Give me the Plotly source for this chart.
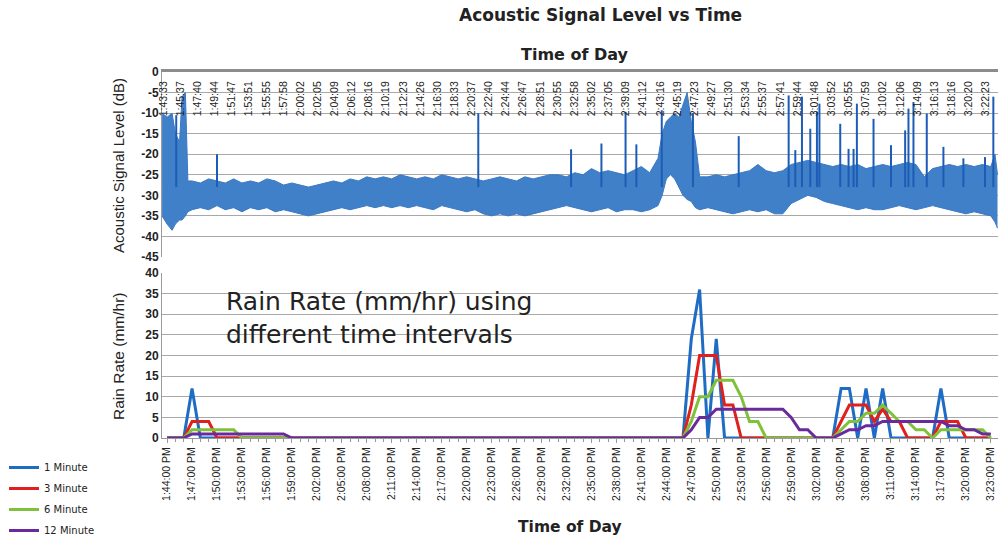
import plotly.graph_objects as go

# ---------------- Top panel: acoustic signal level (dB) ----------------
sig_time = [
    "1:43:24", "1:44:00", "1:44:36", "1:45:00", "1:45:30", "1:45:48", "1:46:12", "1:46:30",
    "1:47:00", "1:48:00", "1:49:00", "1:50:00", "1:51:00", "1:52:00", "1:53:00", "1:54:00",
    "1:55:00", "1:56:00", "1:57:00", "1:58:00", "1:59:00", "2:00:00", "2:01:00", "2:02:00",
    "2:03:00", "2:04:00", "2:05:00", "2:06:00", "2:07:00", "2:08:00", "2:09:00", "2:10:00",
    "2:11:00", "2:12:00", "2:13:00", "2:14:00", "2:15:00", "2:16:00", "2:17:00", "2:18:00",
    "2:19:00", "2:20:00", "2:21:00", "2:22:00", "2:23:00", "2:24:00", "2:25:00", "2:26:00",
    "2:27:00", "2:28:00", "2:29:00", "2:30:00", "2:31:00", "2:32:00", "2:33:00", "2:34:00",
    "2:35:00", "2:36:00", "2:37:00", "2:38:00", "2:39:00", "2:40:00", "2:41:00", "2:42:00",
    "2:43:00", "2:43:30", "2:44:00", "2:44:30", "2:45:00", "2:45:30", "2:46:00", "2:46:30",
    "2:47:00", "2:47:30", "2:48:00", "2:49:00", "2:50:00", "2:51:00", "2:52:00", "2:53:00",
    "2:54:00", "2:55:00", "2:56:00", "2:57:00", "2:58:00", "2:59:00", "3:00:00", "3:01:00",
    "3:02:00", "3:03:00", "3:04:00", "3:05:00", "3:06:00", "3:07:00", "3:08:00", "3:09:00",
    "3:10:00", "3:11:00", "3:12:00", "3:13:00", "3:14:00", "3:15:00", "3:16:00", "3:17:00",
    "3:18:00", "3:19:00", "3:20:00", "3:21:00", "3:22:00", "3:23:00", "3:23:30", "3:23:48",
]
sig_high = [
    -10, -11, -10, -15, -17, -6, -5, -26.5,
    -26.5, -27.0, -26.0, -26.5, -27.0, -26.0, -27.0, -26.5,
    -27.0, -26.0, -26.5, -27.5, -27.0, -27.5, -28.0, -27.5,
    -27.0, -26.5, -27.0, -26.0, -26.5, -25.5, -26.0, -25.5,
    -26.0, -25.0, -25.5, -26.0, -25.5, -26.0, -25.0, -25.5,
    -26.0, -25.5, -26.0, -26.5, -26.0, -25.5, -26.0, -26.5,
    -25.5, -26.0, -25.5, -25.0, -25.0, -25.5, -24.5, -25.0,
    -23.5, -24.5, -24.0, -24.5, -25.0, -24.0, -23.0, -24.5,
    -21.0, -15.0, -12.0, -11.0, -10.0, -11.0, -8.0, -5.0,
    -12.0, -17.0, -25.5, -25.5, -25.0, -25.5, -25.0, -24.5,
    -24.0, -22.5, -24.0, -24.5, -24.0, -22.5, -22.0, -21.5,
    -22.0, -22.5, -23.0, -22.5, -23.0, -22.5, -23.5, -23.0,
    -22.5, -23.0, -22.5, -22.0, -22.5, -25.5, -23.5, -23.0,
    -22.5, -23.0, -22.5, -23.0, -22.5, -23.0, -20.0, -25.0,
]
sig_low = [
    -35, -37, -38.5, -37, -36, -36, -35, -34,
    -33.5, -33.0, -33.5, -32.5, -33.5, -33.0, -34.0, -33.0,
    -33.5, -33.0, -34.0, -33.5, -34.0, -34.5, -35.0, -34.5,
    -34.0, -33.5, -33.0, -33.5, -33.0, -32.5, -33.0, -32.5,
    -33.0, -32.5, -33.0, -32.5, -33.0, -33.5, -32.5, -33.0,
    -33.5, -34.0, -33.5, -34.5, -35.0, -34.5, -35.0, -34.5,
    -35.0, -34.5, -34.0, -33.5, -33.0, -32.5, -33.0, -33.5,
    -34.0, -33.5, -33.0, -34.0, -33.5, -33.5, -34.0, -33.5,
    -32.5, -30.0, -26.0, -25.0, -26.0, -28.0, -30.0, -31.0,
    -31.5, -33.0, -33.5, -33.0, -33.5, -34.0, -34.5, -34.0,
    -33.5, -34.0, -33.5, -34.5, -34.5, -32.0, -31.0, -30.0,
    -30.5, -31.5, -32.0, -32.5, -33.0, -33.5, -33.0, -33.5,
    -33.5, -33.0, -32.5, -33.0, -33.5, -33.0, -32.5, -33.0,
    -33.5, -34.0, -34.5, -34.0, -34.5, -35.0, -36.5, -38.0,
]
spike_time = [
    "1:45:06", "1:50:00", "2:21:24", "2:32:33", "2:36:12", "2:39:06", "2:40:24", "2:43:27",
    "2:47:12", "2:52:42", "2:58:42", "2:59:30", "3:00:18", "3:01:18", "3:02:06", "3:02:24",
    "3:04:54", "3:05:54", "3:06:30", "3:06:54", "3:08:54", "3:11:00", "3:12:42", "3:13:06",
    "3:13:42", "3:15:18", "3:17:18", "3:19:42", "3:22:18", "3:23:18",
]
spike_peak = [
    -10.5, -20, -10, -18.8, -17.4, -9.7, -17.6, -9.3,
    -10, -15.6, -5.7, -19, -6, -13.8, -9.7, -7.7,
    -12.6, -18.7, -18.7, -7.7, -11.4, -17.8, -14.2, -8.9,
    -7.3, -10.1, -18.2, -21, -20.7, -6,
]
spike_base = -28

top_tick_labels = [
    "1:43:33", "1:45:37", "1:47:40", "1:49:44", "1:51:47", "1:53:51", "1:55:55", "1:57:58",
    "2:00:02", "2:02:05", "2:04:09", "2:06:12", "2:08:16", "2:10:19", "2:12:23", "2:14:26",
    "2:16:30", "2:18:33", "2:20:37", "2:22:40", "2:24:44", "2:26:47", "2:28:51", "2:30:55",
    "2:32:58", "2:35:02", "2:37:05", "2:39:09", "2:41:12", "2:43:16", "2:45:19", "2:47:23",
    "2:49:27", "2:51:30", "2:53:34", "2:55:37", "2:57:41", "2:59:44", "3:01:48", "3:03:52",
    "3:05:55", "3:07:59", "3:10:02", "3:12:06", "3:14:09", "3:16:13", "3:18:16", "3:20:20",
    "3:22:23",
]
db_ticks = [0, -5, -10, -15, -20, -25, -30, -35, -40, -45]

# ---------------- Bottom panel: rain rate (mm/hr), one value per minute from 1:44 PM ----------------
rain_start = "1:44:00 PM"
rain_1min = [
    0, 0, 0, 12, 0, 0, 0, 0, 0, 0,
    0, 0, 0, 0, 0, 0, 0, 0, 0, 0,
    0, 0, 0, 0, 0, 0, 0, 0, 0, 0,
    0, 0, 0, 0, 0, 0, 0, 0, 0, 0,
    0, 0, 0, 0, 0, 0, 0, 0, 0, 0,
    0, 0, 0, 0, 0, 0, 0, 0, 0, 0,
    0, 0, 0, 24, 36, 0, 24, 0, 0, 0,
    0, 0, 0, 0, 0, 0, 0, 0, 0, 0,
    0, 12, 12, 0, 12, 0, 12, 0, 0, 0,
    0, 0, 0, 12, 0, 0, 0, 0, 0, 0,
]
rain_3min = [
    0, 0, 0, 4, 4, 4, 0, 0, 0, 0,
    0, 0, 0, 0, 0, 0, 0, 0, 0, 0,
    0, 0, 0, 0, 0, 0, 0, 0, 0, 0,
    0, 0, 0, 0, 0, 0, 0, 0, 0, 0,
    0, 0, 0, 0, 0, 0, 0, 0, 0, 0,
    0, 0, 0, 0, 0, 0, 0, 0, 0, 0,
    0, 0, 0, 8, 20, 20, 20, 8, 8, 0,
    0, 0, 0, 0, 0, 0, 0, 0, 0, 0,
    0, 4, 8, 8, 8, 4, 7, 4, 4, 0,
    0, 0, 0, 4, 4, 4, 0, 0, 0, 0,
]
rain_6min = [
    0, 0, 0, 2, 2, 2, 2, 2, 2, 0,
    0, 0, 0, 0, 0, 0, 0, 0, 0, 0,
    0, 0, 0, 0, 0, 0, 0, 0, 0, 0,
    0, 0, 0, 0, 0, 0, 0, 0, 0, 0,
    0, 0, 0, 0, 0, 0, 0, 0, 0, 0,
    0, 0, 0, 0, 0, 0, 0, 0, 0, 0,
    0, 0, 0, 4, 10, 10, 14, 14, 14, 10,
    4, 4, 0, 0, 0, 0, 0, 0, 0, 0,
    0, 2, 4, 4, 6, 6, 8, 6, 4, 4,
    2, 2, 0, 2, 2, 2, 2, 2, 2, 0,
]
rain_12min = [
    0, 0, 0, 1, 1, 1, 1, 1, 1, 1,
    1, 1, 1, 1, 1, 0, 0, 0, 0, 0,
    0, 0, 0, 0, 0, 0, 0, 0, 0, 0,
    0, 0, 0, 0, 0, 0, 0, 0, 0, 0,
    0, 0, 0, 0, 0, 0, 0, 0, 0, 0,
    0, 0, 0, 0, 0, 0, 0, 0, 0, 0,
    0, 0, 0, 2, 5, 5, 7, 7, 7, 7,
    7, 7, 7, 7, 7, 5, 2, 2, 0, 0,
    0, 1, 2, 2, 3, 3, 4, 4, 4, 4,
    4, 4, 4, 4, 3, 3, 2, 2, 1, 1,
]
bottom_tick_labels = [
    "1:44:00 PM", "1:47:00 PM", "1:50:00 PM", "1:53:00 PM", "1:56:00 PM", "1:59:00 PM",
    "2:02:00 PM", "2:05:00 PM", "2:08:00 PM", "2:11:00 PM", "2:14:00 PM", "2:17:00 PM",
    "2:20:00 PM", "2:23:00 PM", "2:26:00 PM", "2:29:00 PM", "2:32:00 PM", "2:35:00 PM",
    "2:38:00 PM", "2:41:00 PM", "2:44:00 PM", "2:47:00 PM", "2:50:00 PM", "2:53:00 PM",
    "2:56:00 PM", "2:59:00 PM", "3:02:00 PM", "3:05:00 PM", "3:08:00 PM", "3:11:00 PM",
    "3:14:00 PM", "3:17:00 PM", "3:20:00 PM", "3:23:00 PM",
]
rain_ticks = [0, 5, 10, 15, 20, 25, 30, 35, 40]

series = [
    ("1 Minute", rain_1min, "#1f6cc4"),
    ("3 Minute", rain_3min, "#e0201c"),
    ("6 Minute", rain_6min, "#80c13c"),
    ("12 Minute", rain_12min, "#6a2a9c"),
]


def to_min(s):
    """clock text -> minutes after 1:00 PM"""
    p = s.replace(" PM", "").split(":")
    h, m = int(p[0]), int(p[1])
    sec = int(p[2]) if len(p) > 2 else 0
    return (h - 1) * 60 + m + sec / 60.0


W, H = 998, 541
X0_PIX, X1_PIX = 162.0, 998.0
x_range = [43.39, 143.86]
px_per_min = (X1_PIX - X0_PIX) / (x_range[1] - x_range[0])
LAB_PIX = 146.0   # wider domain used only for the top time labels
lab_range = [x_range[0] - (X0_PIX - LAB_PIX) / px_per_min, x_range[1]]


def py(pix):
    return (H - pix) / H


fig = go.Figure()

# top panel band
st = [to_min(s) for s in sig_time]
fig.add_trace(go.Scatter(x=st, y=sig_low, mode="lines", line=dict(color="#3b78c4", width=1),
                         xaxis="x2", yaxis="y2", showlegend=False, hoverinfo="skip"))
fig.add_trace(go.Scatter(x=st, y=sig_high, mode="lines", line=dict(color="#3b78c4", width=1),
                         fill="tonexty", fillcolor="#4080c8",
                         xaxis="x2", yaxis="y2", showlegend=False, hoverinfo="skip"))
sx, sy = [], []
for t, pk in zip(spike_time, spike_peak):
    sx += [to_min(t), to_min(t), None]
    sy += [spike_base, pk, None]
fig.add_trace(go.Scatter(x=sx, y=sy, mode="lines", line=dict(color="#1d5cb6", width=2),
                         xaxis="x2", yaxis="y2", showlegend=False, hoverinfo="skip"))
# holder so the label-only axis pair is drawn
fig.add_trace(go.Scatter(x=[lab_range[0]], y=[-100], mode="markers", marker=dict(opacity=0),
                         xaxis="x3", yaxis="y3", showlegend=False, hoverinfo="skip"))

# bottom panel
t0 = to_min(rain_start)
rt = [t0 + i for i in range(len(rain_1min))]
for i, (name, vals, col) in enumerate(series):
    fig.add_trace(go.Scatter(x=rt, y=vals, mode="lines", name=name,
                             line=dict(color=col, width=3), legendgroup=f"g{i}",
                             xaxis="x", yaxis="y"))

grid = "#a8a8a8"
tick_bold = dict(size=12, family="Liberation Sans", color="#222", weight="bold")
fig.update_layout(
    width=W, height=H, margin=dict(l=0, r=0, t=0, b=0, autoexpand=False),
    paper_bgcolor="white", plot_bgcolor="rgba(0,0,0,0)",
    font=dict(family="Liberation Sans", color="#222"),
    xaxis=dict(domain=[X0_PIX / W, 1], range=x_range, anchor="y", automargin=False,
               tickmode="array", tickvals=[to_min(s) for s in bottom_tick_labels],
               ticktext=bottom_tick_labels, tickangle=-90,
               tickfont=dict(size=10.5, family="Liberation Sans", color="#222"),
               ticks="outside", ticklen=4, tickcolor="#999",
               minor=dict(tickmode="linear", tick0=44, dtick=1, ticks="outside", ticklen=3,
                          tickcolor="#999", showgrid=False),
               showline=True, linecolor="#999", linewidth=1, showgrid=False, zeroline=False),
    yaxis=dict(domain=[py(438), py(273)], range=[0, 40], anchor="x", automargin=False,
               tickmode="array", tickvals=rain_ticks, ticktext=[str(v) for v in rain_ticks],
               tickfont=tick_bold,
               showline=True, linecolor="#999", gridcolor=grid, gridwidth=1, zeroline=False,
               ticks=""),
    xaxis2=dict(domain=[X0_PIX / W, 1], range=x_range, anchor="y2", side="top",
                automargin=False, showticklabels=False,
                ticks="", showline=True, linecolor="#8c8c8c", linewidth=3,
                showgrid=False, zeroline=False),
    yaxis2=dict(domain=[py(257), py(72)], range=[-45, 0], anchor="x2", automargin=False,
                tickmode="array", tickvals=db_ticks, ticktext=[str(v) for v in db_ticks],
                tickfont=tick_bold,
                showline=True, linecolor="#999", gridcolor=grid, gridwidth=1, zeroline=False),
    xaxis3=dict(domain=[LAB_PIX / W, 1], range=lab_range, anchor="y3", side="top",
                automargin=False,
                tickmode="array", tickvals=[to_min(s) for s in top_tick_labels],
                ticktext=top_tick_labels, tickangle=-90, ticklabelposition="inside",
                tickfont=dict(size=10.5, family="Liberation Sans", color="#222"),
                ticks="", showline=False, showgrid=False, zeroline=False),
    yaxis3=dict(domain=[py(257), py(72.5)], range=[-45, 0], anchor="x3", automargin=False,
                showticklabels=False, showgrid=False, showline=False, zeroline=False,
                ticks=""),
    legend=dict(x=0.004, y=py(453), xanchor="left", yanchor="top",
                font=dict(size=10, family="DejaVu Sans", color="#222"),
                tracegroupgap=2, bgcolor="rgba(0,0,0,0)"),
)


def label(text, x, y, size, family, angle=0, xanchor="center"):
    fig.add_annotation(text=text, x=x / W, y=py(y), xref="paper", yref="paper",
                       showarrow=False, textangle=angle, xanchor=xanchor, yanchor="middle",
                       align="left", font=dict(size=size, family=family, color="#222"))


label("<b>Acoustic Signal Level vs Time</b>", 600, 15, 17, "DejaVu Sans")
label("<b>Time of Day</b>", 575, 55, 16, "DejaVu Sans")
label("<b>Time of Day</b>", 570, 527, 15.5, "DejaVu Sans")
label("Acoustic Signal Level (dB)", 118, 166, 15, "Liberation Sans", angle=-90)
label("Rain Rate (mm/hr)", 118, 357, 15.5, "Liberation Sans", angle=-90)
label("Rain Rate (mm/hr) using<br>different time intervals", 224, 318, 25, "DejaVu Sans",
      xanchor="left")

fig.write_html("out.html")
